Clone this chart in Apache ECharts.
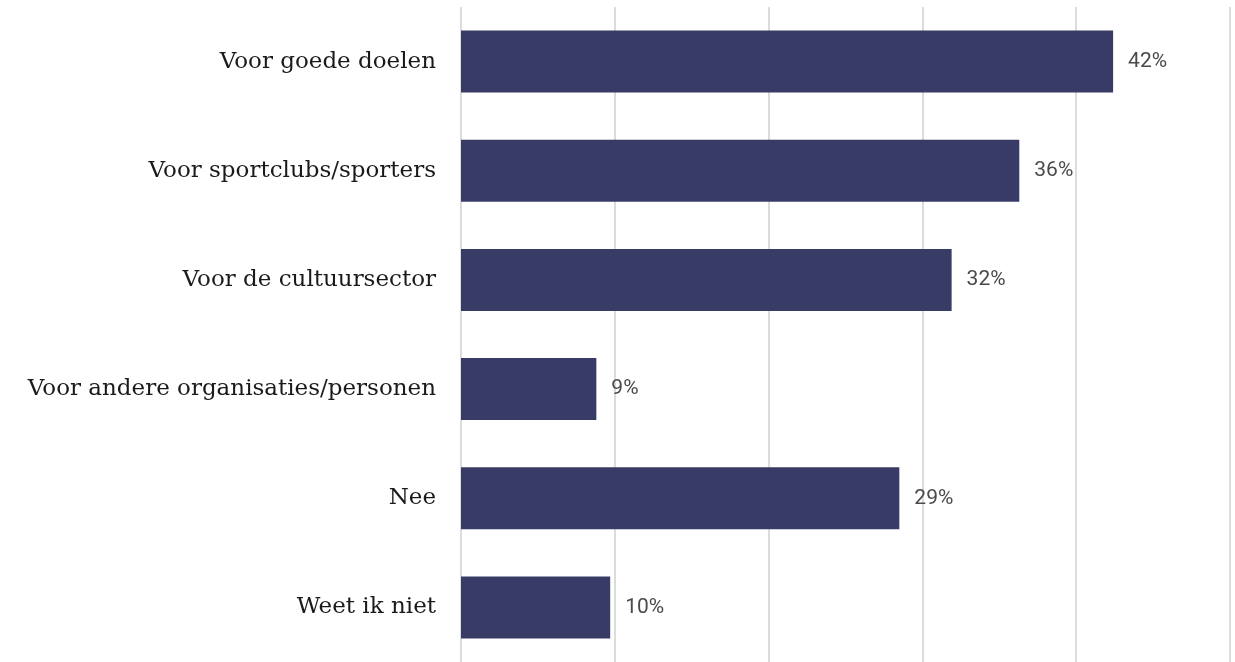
<!DOCTYPE html>
<html><head><meta charset="utf-8">
<script src="https://cdn.jsdelivr.net/npm/echarts@6/dist/echarts.min.js"></script>
<style>html,body{margin:0;padding:0;background:#fff}#c{width:1235px;height:662px}</style>
</head><body><div id="c"></div>
<script>
const categories = ["Voor goede doelen","Voor sportclubs/sporters","Voor de cultuursector","Voor andere organisaties/personen","Nee","Weet ik niet"];
const values = [42.4, 36.3, 31.9, 8.8, 28.5, 9.7];
const labels = ["42%","36%","32%","9%","29%","10%"];
const chart = echarts.init(document.getElementById('c'));
chart.setOption({
  animation:false,
  grid:{left:461,right:5,top:7,height:659,containLabel:false},
  xAxis:{type:'value',min:0,max:50,interval:10,axisLabel:{show:false},axisLine:{show:false},axisTick:{show:false},
    splitLine:{show:true,lineStyle:{color:'#dcdcdc',width:2}}},
  yAxis:{type:'category',inverse:true,data:categories,axisLine:{show:false},axisTick:{show:false},
    axisLabel:{margin:25,color:'#1a1a1a',fontFamily:'DejaVu Serif',fontSize:23}},
  series:[{type:'bar',data:values,barWidth:62,itemStyle:{color:'#383b66'},
    label:{show:true,position:'right',distance:15,color:'#4a4a4a',fontFamily:'Roboto',fontSize:21,
      formatter:p=>labels[p.dataIndex]}}]
});
</script></body></html>
